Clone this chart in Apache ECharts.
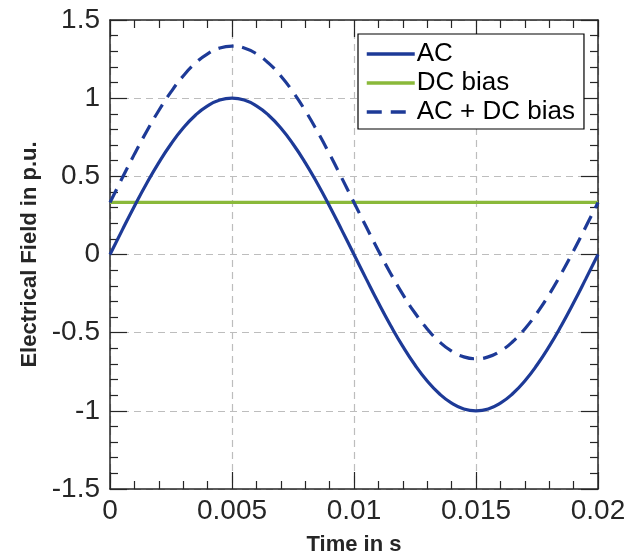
<!DOCTYPE html>
<html>
<head>
<meta charset="utf-8">
<script src="https://cdn.jsdelivr.net/npm/echarts@6/dist/echarts.min.js"></script>
<style>html,body{margin:0;padding:0;background:#fff}#c{width:635px;height:552px}</style>
</head>
<body>
<div id="c"></div>
<script>
// Time samples (s)
var timeValues = [0,0.0005,0.001,0.0015,0.002,0.0025,0.003,0.0035,0.004,0.0045,0.005,0.0055,0.006,0.0065,0.007,0.0075,0.008,0.0085,0.009,0.0095,0.01,0.0105,0.011,0.0115,0.012,0.0125,0.013,0.0135,0.014,0.0145,0.015,0.0155,0.016,0.0165,0.017,0.0175,0.018,0.0185,0.019,0.0195,0.02];
// AC field (p.u.)
var acValues = [0,0.156,0.309,0.454,0.588,0.707,0.809,0.891,0.951,0.988,1,0.988,0.951,0.891,0.809,0.707,0.588,0.454,0.309,0.156,0,-0.156,-0.309,-0.454,-0.588,-0.707,-0.809,-0.891,-0.951,-0.988,-1,-0.988,-0.951,-0.891,-0.809,-0.707,-0.588,-0.454,-0.309,-0.156,0];
// AC + DC bias (p.u.)
var acDcValues = [0.333,0.489,0.642,0.787,0.921,1.040,1.142,1.224,1.284,1.321,1.333,1.321,1.284,1.224,1.142,1.040,0.921,0.787,0.642,0.489,0.333,0.177,0.024,-0.121,-0.255,-0.374,-0.476,-0.558,-0.618,-0.655,-0.667,-0.655,-0.618,-0.558,-0.476,-0.374,-0.255,-0.121,0.024,0.177,0.333];
// DC bias
var dcTimes = [0,0.02];
var dcValues = [0.333,0.333];
var seriesNames = ['AC','DC bias','AC + DC bias'];
var xTitle = 'Time in s';
var yTitle = 'Electrical Field in p.u.';

function pairs(xs, ys){ return xs.map(function(x,i){return [x, ys[i]];}); }

var blue = '#1d3a97', green = '#8ab93a', axisCol = '#262626', font = 'Liberation Sans, Arial, Helvetica, sans-serif';

var chart = echarts.init(document.getElementById('c'), null, {renderer:'canvas'});
var common = {
  axisLine:{show:true, onZero:false, lineStyle:{color:axisCol, width:1.5}},
  axisTick:{show:true, inside:true, length:17, lineStyle:{color:axisCol, width:1.2}},
  minorTick:{show:true, splitNumber:5, length:8, lineStyle:{color:axisCol, width:1.2}}
};
chart.setOption({
  animation:false,
  backgroundColor:'#fff',
  grid:{left:110, right:37, top:20, bottom:63, containLabel:false, outerBoundsMode:'none'},
  legend:{
    data:seriesNames,
    orient:'vertical', left:358, top:34,
    backgroundColor:'#fff', borderColor:'#000', borderWidth:1.2,
    padding:[7,9,4,7], itemGap:3, itemWidth:48, itemHeight:14,
    lineStyle:{width:3.5},
    itemStyle:{color:'rgba(0,0,0,0)', borderWidth:0, opacity:0},
    textStyle:{fontFamily:font, fontSize:26, color:'#000', padding:[0,0,0,-3]}
  },
  xAxis:[
    Object.assign({type:'value', min:0, max:0.02, interval:0.005, position:'bottom',
      axisLabel:{fontFamily:font, fontSize:28, color:axisCol, margin:8},
      splitLine:{show:true, lineStyle:{color:'#bdbdbd', type:[7,5], width:1.2}},
      name:xTitle, nameLocation:'middle', nameGap:45,
      nameTextStyle:{fontFamily:font, fontSize:22, fontWeight:'bold', color:axisCol}}, common),
    Object.assign({type:'value', min:0, max:0.02, interval:0.005, position:'top',
      axisLabel:{show:false}, splitLine:{show:false}}, common)
  ],
  yAxis:[
    Object.assign({type:'value', min:-1.5, max:1.5, interval:0.5, position:'left',
      axisLabel:{fontFamily:font, fontSize:28, color:axisCol, margin:10},
      splitLine:{show:true, lineStyle:{color:'#bdbdbd', type:[7,5], width:1.2}},
      name:yTitle, nameLocation:'middle', nameGap:61,
      nameTextStyle:{fontFamily:font, fontSize:22, fontWeight:'bold', color:axisCol}}, common),
    Object.assign({type:'value', min:-1.5, max:1.5, interval:0.5, position:'right',
      axisLabel:{show:false}, splitLine:{show:false}}, common)
  ],
  series:[
    {name:seriesNames[0], type:'line', data:pairs(timeValues, acValues), smooth:true, symbol:'none',
      lineStyle:{color:blue, width:3.2}, itemStyle:{color:blue}, z:3},
    {name:seriesNames[1], type:'line', data:pairs(dcTimes, dcValues), symbol:'none',
      lineStyle:{color:green, width:3.2}, itemStyle:{color:green}, z:2},
    {name:seriesNames[2], type:'line', data:pairs(timeValues, acDcValues), smooth:true, symbol:'none',
      lineStyle:{color:blue, width:3.2, type:[15,9]}, itemStyle:{color:blue}, z:3}
  ]
});
</script>
</body>
</html>
